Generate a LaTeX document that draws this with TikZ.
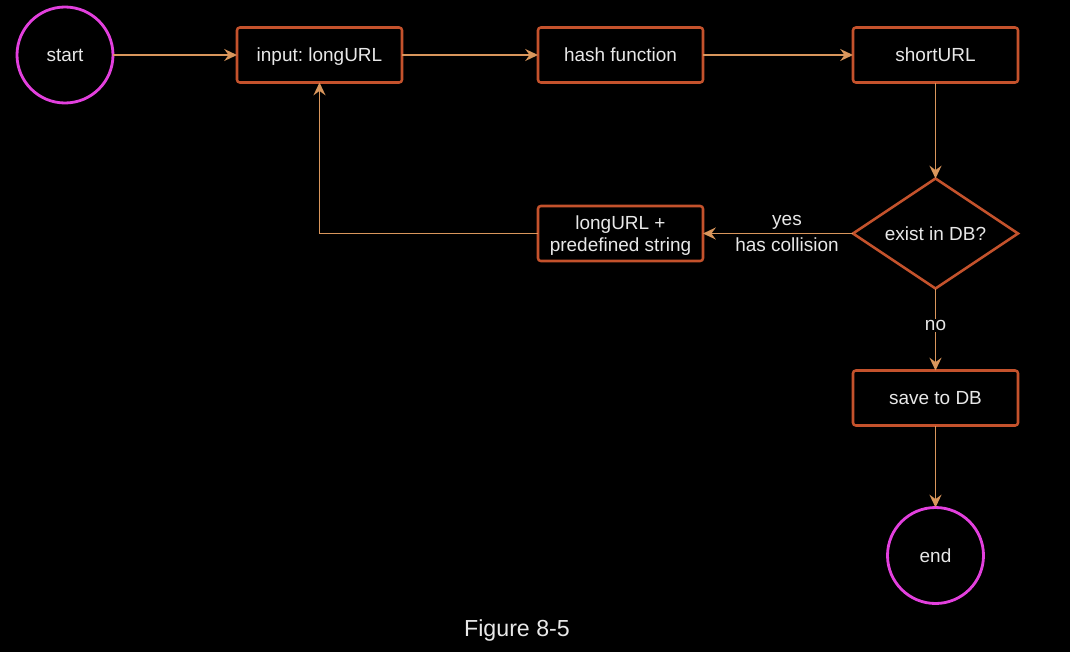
\documentclass[tikz,border=0pt]{standalone}
\usepackage{fontspec}
\setmainfont{Liberation Sans}
\usepackage{xcolor}
\usetikzlibrary{arrows.meta,positioning,shapes.geometric}

\definecolor{termcol}{HTML}{E340DE}
\definecolor{boxcol}{HTML}{C4522C}
\definecolor{flowcol}{HTML}{D9965C}
\definecolor{txtcol}{HTML}{E8E8E8}

\frenchspacing
\begin{document}
\begin{tikzpicture}[>={Stealth[length=3.2mm,width=3mm,inset=1.1mm]},
  font=\fontsize{13.5}{16}\selectfont, node distance=3.4cm,
  every node/.style={outer sep=0pt},
  term/.style={circle, draw=termcol, line width=2pt, minimum size=2.4cm, text=txtcol},
  proc/.style={draw=boxcol, rounded corners=2pt, line width=1.8pt, minimum height=1.375cm, minimum width=4.125cm, align=center, text=txtcol},
  dec/.style={diamond, draw=boxcol, line width=1.8pt, inner sep=0pt, minimum width=4.125cm, minimum height=2.75cm, aspect=1.5, text=txtcol},
  lbl/.style={text=txtcol, inner sep=1pt},
  flow/.style={->, draw=flowcol, line width=1.3pt}]
  % background and frame
  \fill[black] (-1.625,1.375) rectangle (25.125,-14.925);
  \useasboundingbox (-1.625,1.375) rectangle (25.125,-14.925);
  % top row
  \node[term] (start) at (0,0) {start};
  \node[proc, right=3.1cm of start, text depth=0pt] (input) {input: longURL};
  \node[proc, right=of input] (hash) {hash function};
  \node[proc, right=3.75cm of hash] (short) {shortURL};
  % check and branches
  \node[dec, below=2.4cm of short] (check) {exist in DB?};
  \node[proc, left=3.75cm of check, text depth=0pt] (retry) {longURL +\\predefined string};
  \node[proc, below=2.05cm of check] (save) {save to DB};
  \node[term, below=2.05cm of save] (end) {end};
  \draw[flow] (start) -- (input);
  \draw[flow] (input) -- (hash);
  \draw[flow] (hash) -- (short);
  \draw[flow] (short) -- (check);
  \draw[flow] (check.west) -- node[lbl, pos=0.44, above=2pt] {yes} node[lbl, pos=0.44, below=2pt] {has collision} (retry.east);
  \draw[flow] (retry.west) -| (input.south);
  \draw[flow] (check.south) -- node[lbl, fill=black, pos=0.45] {no} (save);
  \draw[flow] (save) -- (end);
  % caption
  \node[text=txtcol, font=\fontsize{16.5}{19}\selectfont] (caption) at (11.3,-14.375) {Figure 8-5};
\end{tikzpicture}
\end{document}
